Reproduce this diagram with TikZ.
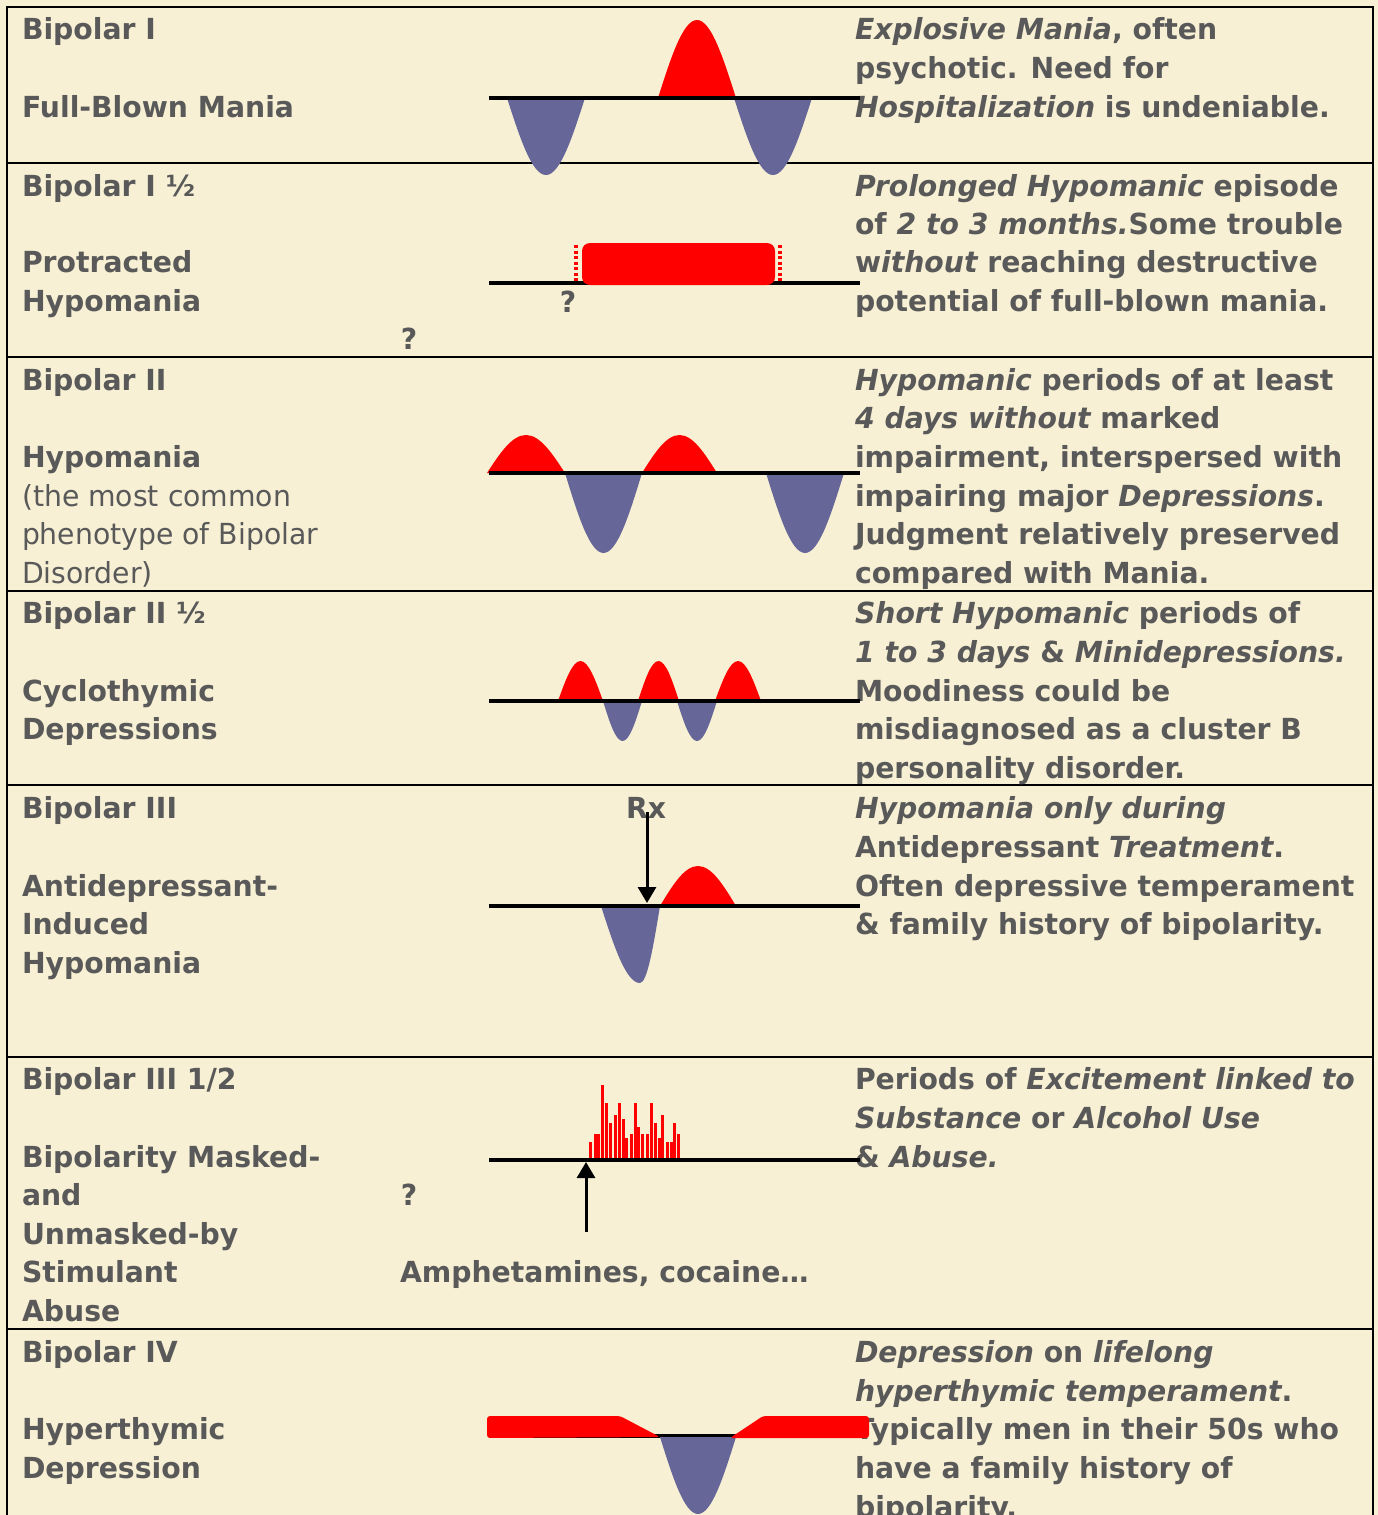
\documentclass[tikz,border=0pt]{standalone}
\usepackage{fontspec}
\setmainfont{DejaVu Sans}[FakeStretch=0.975]
\usetikzlibrary{arrows.meta}
\definecolor{bg}{HTML}{F7F0D4}
\definecolor{txt}{HTML}{595959}
\definecolor{dep}{HTML}{666699}
\newcommand\mytxt[4]{\node[lbl] (#1) at (#2,#3) {#4};}
\newcommand\lobe[5]{\fill[#5] (#1,#3) sin ({(#1+#2)/2},#4) cos (#2,#3) -- cycle;}
\begin{document}
\begin{tikzpicture}[x=1pt,y=-1pt,
  lbl/.style={anchor=base west,inner sep=0pt,outer sep=0pt,text=txt,font=\fontsize{29}{35}\selectfont\bfseries},
  rule/.style={line width=2pt,black},
  axis/.style={line width=3.5pt,black},
  arr/.style={line width=3pt,black,-{Triangle[length=16pt,width=18pt]}},
  dots/.style={red,line width=3.5pt,dash pattern=on 3pt off 2.5pt}]
\fill[bg] (0,0) rectangle (1378,1515);
\useasboundingbox (0,0) rectangle (1378,1515);
% frame and separators
\draw[rule] (7,1530) -- (7,7) -- (1373,7) -- (1373,1530);
\foreach \yy in {163,357,591,785,1057,1329} \draw[rule] (7,\yy) -- (1373,\yy);

% ---------- Row 1
\mytxt{a1}{22}{39}{Bipolar I}
\mytxt{a2}{22}{117}{Full-Blown Mania}
\mytxt{a3}{855}{39}{\itshape Explosive Mania\upshape, often}
\mytxt{a4}{855}{78}{psychotic. Need for}
\mytxt{a5}{855}{117}{\itshape Hospitalization\upshape\ is undeniable.}
\lobe{507}{585}{98}{175}{dep}
\lobe{734}{812}{98}{175}{dep}
\lobe{658}{736}{98}{20}{red}
\draw[axis] (489,98) -- (860,98);

% ---------- Row 2
\mytxt{b1}{22}{196}{Bipolar I ½}
\mytxt{b2}{22}{272}{Protracted}
\mytxt{b3}{22}{311}{Hypomania}
\node[lbl,anchor=base] (bq1) at (409,349) {?};
\mytxt{b4}{855}{196}{\itshape Prolonged Hypomanic\upshape\ episode}
\mytxt{b5}{855}{234}{of \itshape 2 to 3 months.\upshape Some trouble}
\mytxt{b6}{855}{272}{w\itshape ithout\upshape\ reaching destructive}
\mytxt{b7}{855}{311}{potential of full-blown mania.}
\draw[axis] (489,283) -- (860,283);
\fill[red,rounded corners=8pt] (582,243) rectangle (775,285);
\draw[dots] (576,245) -- (576,283);
\draw[dots] (780,245) -- (780,283);
\node[lbl,anchor=base] (bq2) at (568,312) {?};

% ---------- Row 3
\mytxt{c1}{22}{390}{Bipolar II}
\mytxt{c2}{22}{467}{Hypomania}
\mytxt{c3}{22}{506}{\mdseries (the most common}
\mytxt{c4}{22}{544}{\mdseries phenotype of Bipolar}
\mytxt{c5}{22}{583}{\mdseries Disorder)}
\mytxt{c6}{855}{390}{\itshape Hypomanic\upshape\ periods of at least}
\mytxt{c7}{855}{428}{\itshape 4 days without\upshape\ marked}
\mytxt{c8}{855}{467}{impairment, interspersed with}
\mytxt{c9}{855}{506}{impairing major \itshape Depressions\upshape.}
\mytxt{c10}{855}{544}{Judgment relatively preserved}
\mytxt{c11}{855}{583}{compared with Mania.}
\lobe{487}{565}{473}{435}{red}
\lobe{642}{717}{473}{435}{red}
\lobe{565}{642}{473}{553}{dep}
\lobe{766}{844}{473}{553}{dep}
\draw[axis] (489,473) -- (860,473);

% ---------- Row 4
\mytxt{d1}{22}{623}{Bipolar II ½}
\mytxt{d2}{22}{701}{Cyclothymic}
\mytxt{d3}{22}{739}{Depressions}
\mytxt{d4}{855}{623}{\itshape Short Hypomanic\upshape\ periods of}
\mytxt{d5}{855}{662}{\itshape 1 to 3 days\upshape\ \& \itshape Minidepressions.}
\mytxt{d6}{855}{701}{Moodiness could be}
\mytxt{d7}{855}{739}{misdiagnosed as a cluster B}
\mytxt{d8}{855}{778}{personality disorder.}
\lobe{558}{603}{701}{661}{red}
\lobe{638}{679}{701}{661}{red}
\lobe{715}{761}{701}{661}{red}
\lobe{603}{642}{701}{741}{dep}
\lobe{677}{717}{701}{741}{dep}
\draw[axis] (489,701) -- (860,701);

% ---------- Row 5
\mytxt{e1}{22}{818}{Bipolar III}
\mytxt{e2}{22}{896}{Antidepressant-}
\mytxt{e3}{22}{934}{Induced}
\mytxt{e4}{22}{973}{Hypomania}
\mytxt{e5}{855}{818}{\itshape Hypomania only during}
\mytxt{e6}{855}{857}{Antidepressant \itshape Treatment\upshape.}
\mytxt{e7}{855}{896}{Often depressive temperament}
\mytxt{e8}{855}{934}{\& family history of bipolarity.}
\node[lbl,anchor=base] (rx) at (646,818) {Rx};
\fill[dep] (601,906) sin (640,983) cos (660,906) -- cycle;
\lobe{660}{736}{906}{866}{red}
\draw[axis] (489,906) -- (860,906);
\coordinate (rxend) at (647,903);
\draw[arr] (647,812) -- (rxend);

% ---------- Row 6
\mytxt{f1}{22}{1089}{Bipolar III 1/2}
\mytxt{f2}{22}{1167}{Bipolarity Masked-}
\mytxt{f3}{22}{1205}{and}
\mytxt{f4}{22}{1244}{Unmasked-by}
\mytxt{f5}{22}{1282}{Stimulant}
\mytxt{f6}{22}{1321}{Abuse}
\node[lbl,anchor=base] (fq) at (409,1205) {?};
\mytxt{amph}{400}{1282}{Amphetamines, cocaine…}
\mytxt{f7}{855}{1089}{Periods of \itshape Excitement linked to}
\mytxt{f8}{855}{1128}{\itshape Substance\upshape\ or \itshape Alcohol Use}
\mytxt{f9}{855}{1167}{\& \itshape Abuse.}
\foreach \bx/\bt in {590.3/1141.7,595.7/1134.3,598.7/1134.3,602.3/1085,606.3/1103.3,610.7/1123.3,615.3/1115.3,619/1103.3,623/1118.7,626.7/1138.3,631/1134.3,635/1103.3,638/1127,642/1134.3,647/1134.3,651.3/1103.3,655/1123.3,659/1138.3,662.3/1115.3,667/1141.7,671.3/1141.7,674.3/1123.3,678/1134.3}
  \draw[red,line width=3pt] (\bx,1160) -- (\bx,\bt);
\draw[axis] (489,1160) -- (860,1160);
\coordinate (amtail) at (586,1232);
\coordinate (amtip) at (586,1162);
\draw[arr] (amtail) -- (amtip);

% ---------- Row 7
\mytxt{g1}{22}{1362}{Bipolar IV}
\mytxt{g2}{22}{1439}{Hyperthymic}
\mytxt{g3}{22}{1478}{Depression}
\mytxt{g4}{855}{1362}{\itshape Depression\upshape\ on \itshape lifelong}
\mytxt{g5}{855}{1401}{\itshape hyperthymic temperament\upshape.}
\mytxt{g6}{855}{1439}{Typically men in their 50s who}
\mytxt{g7}{855}{1478}{have a family history of}
\mytxt{g8}{855}{1517}{bipolarity.}
\draw[axis] (489,1436) -- (860,1436);
\lobe{660}{736}{1437}{1514}{dep}
\fill[red,rounded corners=3pt] (487,1416) -- (620,1416) -- (660,1437) -- (487,1438) -- cycle;
\fill[red,rounded corners=3pt] (730,1438) -- (763,1416) -- (869,1416) -- (869,1438) -- cycle;
\end{tikzpicture}
\end{document}
